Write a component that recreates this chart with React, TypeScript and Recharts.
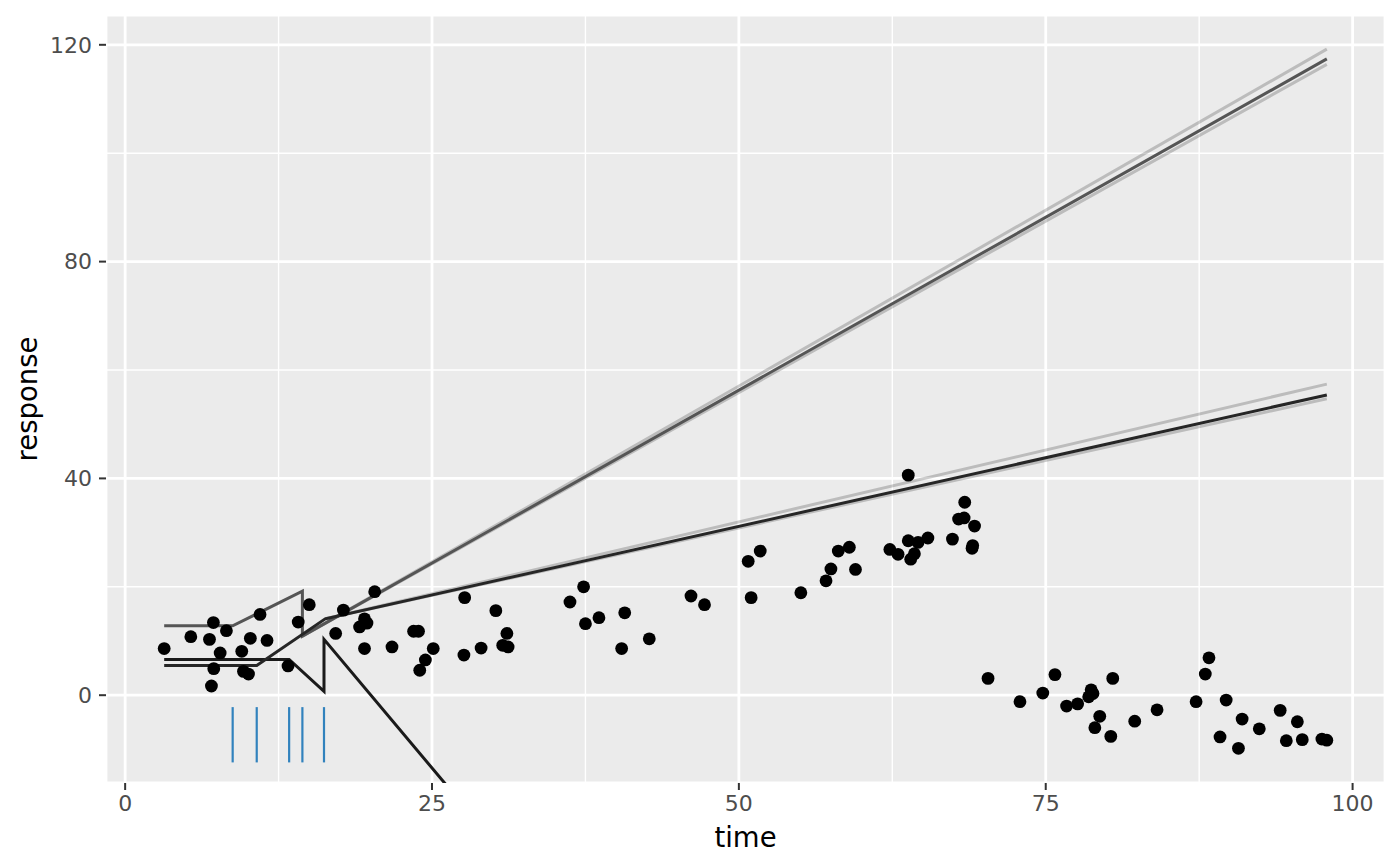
import {
  ComposedChart, Line, Scatter, XAxis, YAxis, CartesianGrid, ReferenceLine,
} from 'recharts'

// observed points
const pointTime = [
  3.18, 5.35, 7.19, 6.87, 8.25, 7.74, 7.22, 7.03, 10.99, 10.2,
  11.56, 9.5, 9.64, 10.05, 13.27, 14.1, 15.0, 17.15, 17.78, 20.33,
  19.1, 19.7, 19.5, 19.5, 21.74, 23.5, 23.9, 25.1, 24.46, 24.0,
  27.66, 30.2, 31.1, 30.76, 31.2, 29.0, 27.6, 37.35, 36.24, 37.5,
  38.6, 40.7, 40.45, 42.7, 46.1, 47.2, 50.76, 51.74, 51.0, 55.05,
  57.1, 57.5, 58.1, 59.0, 59.5, 63.8, 62.3, 62.97, 63.8, 64.6,
  65.4, 64.3, 64.0, 67.4, 67.9, 68.35, 68.4, 69.2, 69.0, 69.05,
  70.3, 72.9, 74.76, 75.75, 76.7, 77.6, 78.7, 78.85, 78.5, 79.4,
  79.0, 80.46, 80.3, 82.25, 84.07, 87.25, 88.0, 88.3, 89.7, 89.2,
  91.0, 90.7, 92.4, 94.1, 94.6, 95.5, 95.9, 97.5, 97.9,
]
const pointResponse = [
  8.6, 10.8, 13.4, 10.3, 11.9, 7.8, 4.9, 1.7, 14.9, 10.5,
  10.1, 8.1, 4.4, 3.9, 5.4, 13.5, 16.7, 11.4, 15.7, 19.1,
  12.6, 13.3, 14.1, 8.6, 8.9, 11.8, 11.8, 8.6, 6.5, 4.6,
  18.0, 15.6, 11.4, 9.2, 8.9, 8.7, 7.4, 20.0, 17.2, 13.2,
  14.3, 15.2, 8.6, 10.4, 18.3, 16.7, 24.7, 26.6, 18.0, 18.9,
  21.1, 23.3, 26.6, 27.3, 23.2, 40.6, 26.9, 26.0, 28.5, 28.2,
  29.0, 26.1, 25.1, 28.8, 32.5, 32.7, 35.6, 31.2, 27.1, 27.6,
  3.1, -1.2, 0.4, 3.8, -2.0, -1.6, 1.0, 0.3, -0.3, -3.9,
  -6.0, 3.1, -7.6, -4.8, -2.7, -1.2, 3.9, 6.9, -0.9, -7.7,
  -4.4, -9.8, -6.2, -2.8, -8.4, -4.9, -8.2, -8.1, -8.3,
]

// fitted segmented lines
const upperTime = [3.18, 8.76, 14.44, 14.44, 97.9]
const upperResp = [12.8, 12.8, 19.2, 10.9, 117.4]
const dropTime = [3.18, 13.36, 16.2, 16.2, 97.9]
const dropResp = [6.6, 6.6, 0.7, 10.3, -210]
const kinkTime = [3.18, 10.72, 16.3, 97.9]
const kinkResp = [5.5, 5.5, 14.1, 55.4]

// faint alternative fits
const steepTime = [14.44, 97.9]
const steepHiResp = [10.9, 119.2]
const steepLoResp = [10.9, 116.4]
const flatTime = [16.3, 97.9]
const flatHiResp = [14.1, 57.4]
const flatLoResp = [14.1, 54.7]

// breakpoint marks
const breakTimes = [8.76, 10.72, 13.36, 14.44, 16.2]
const breakTop = -2.2
const breakBottom = -12.4

const xTicks = [0, 25, 50, 75, 100]
const yTicks = [0, 40, 80, 120]
const xMinor = [12.5, 37.5, 62.5, 87.5]
const yMinor = [20, 60, 100]

const zip = (xs: number[], ys: number[]) => xs.map((x, i) => ({ x, y: ys[i] }))

const points = zip(pointTime, pointResponse)
const font = '"DejaVu Sans", sans-serif'

const Dot = (p: any) => <circle cx={p.cx} cy={p.cy} r={6.4} fill="#000" />

const YTitle = ({ viewBox }: any) => {
  const x = viewBox.x + viewBox.width - 69
  const y = viewBox.y + viewBox.height / 2
  return (
    <text x={x} y={y} transform={`rotate(-90 ${x} ${y})`} textAnchor="middle"
      fontSize={27.5} fontFamily={font} fill="#000">response</text>
  )
}

const lineProps = { type: 'linear' as const, dataKey: 'y', strokeWidth: 3, dot: false, isAnimationActive: false }

export default function App() {
  return (
    <ComposedChart width={1392} height={850} margin={{ top: 7, right: 15, bottom: 0, left: 0 }}>
      <CartesianGrid fill="#EBEBEB" fillOpacity={1} stroke="#ffffff" strokeWidth={2.8} />
      {xMinor.map((v) => (
        <ReferenceLine key={`xm${v}`} x={v} stroke="#ffffff" strokeWidth={1.4} />
      ))}
      {yMinor.map((v) => (
        <ReferenceLine key={`ym${v}`} y={v} stroke="#ffffff" strokeWidth={1.4} />
      ))}
      <XAxis
        dataKey="x"
        type="number"
        domain={[-1.56, 102.64]}
        allowDataOverflow
        ticks={xTicks}
        height={75}
        tickSize={7}
        tickMargin={5}
        axisLine={false}
        tickLine={{ stroke: '#333333', strokeWidth: 2 }}
        tick={{ fill: '#4D4D4D', fontSize: 22, fontFamily: font }}
        label={{ value: 'time', position: 'insideBottom', offset: 11, fill: '#000', fontSize: 27.5, fontFamily: font }}
      />
      <YAxis
        dataKey="y"
        type="number"
        domain={[-16.2, 125.5]}
        allowDataOverflow
        ticks={yTicks}
        width={98}
        tickSize={7}
        tickMargin={7}
        axisLine={false}
        tickLine={{ stroke: '#333333', strokeWidth: 2 }}
        tick={{ fill: '#4D4D4D', fontSize: 22, fontFamily: font }}
        label={{ content: <YTitle /> }}
      />
      {breakTimes.map((t) => (
        <ReferenceLine
          key={`b${t}`}
          segment={[{ x: t, y: breakTop }, { x: t, y: breakBottom }]}
          stroke="#3182BD"
          strokeWidth={2.2}
        />
      ))}
      <Line {...lineProps} data={zip(steepTime, steepHiResp)} stroke="#000" strokeOpacity={0.2} />
      <Line {...lineProps} data={zip(steepTime, steepLoResp)} stroke="#000" strokeOpacity={0.2} />
      <Line {...lineProps} data={zip(flatTime, flatHiResp)} stroke="#000" strokeOpacity={0.2} />
      <Line {...lineProps} data={zip(flatTime, flatLoResp)} stroke="#000" strokeOpacity={0.2} />
      <Line {...lineProps} data={zip(upperTime, upperResp)} stroke="#555555" />
      <Line {...lineProps} data={zip(dropTime, dropResp)} stroke="#1a1a1a" />
      <Line {...lineProps} data={zip(kinkTime, kinkResp)} stroke="#262626" />
      <Scatter data={points} dataKey="y" shape={<Dot />} isAnimationActive={false} />
    </ComposedChart>
  )
}
